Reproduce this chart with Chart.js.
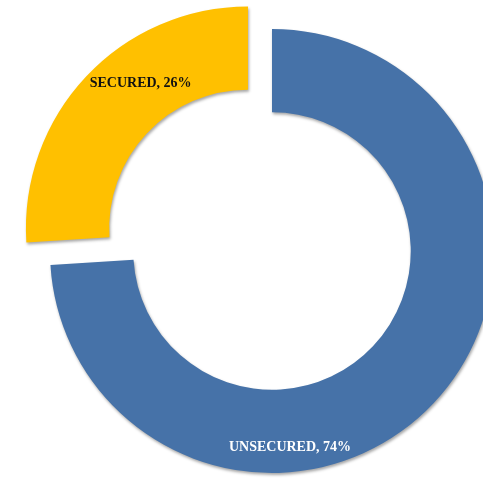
<!DOCTYPE html>
<html>
<head>
<meta charset="utf-8">
<title>Secured vs Unsecured</title>
<script src="https://cdn.jsdelivr.net/npm/chart.js@4.4.1/dist/chart.umd.min.js"></script>
<style>
    html, body {
        margin: 0;
        padding: 0;
        background: #ffffff;
        overflow: hidden;
        width: 483px;
        height: 478px;
    }
    #chartBox {
        position: absolute;
        left: 0;
        top: 0;
    }
</style>
</head>
<body>
<canvas id="chartBox" width="544" height="502"></canvas>
<script>
// Chart data
const categories = ["UNSECURED", "SECURED"];
const shares = [74, 26];
const sliceColors = ["#4672a8", "#ffc000"];
const labelColors = ["#ffffff", "#111111"];
const explode = [0, 33];

// Where along each slice the label sits (fraction of the arc, radius factor of ring)
const labelSpots = [
    { frac: 0.656, ring: 0.7 },
    { frac: 0.61, ring: 0.5 },
];

// Chart.js moves an arc by offset / 4 (plus a tiny fix for small arcs),
// so scale the wanted pixel shift up
function arcOffsets() {
    const total = shares.reduce((a, b) => a + b, 0);
    return explode.map((px, i) => {
        const circ = (shares[i] / total) * Math.PI * 2;
        const fix = 1 - Math.sin(Math.min(Math.PI, circ));
        return (px * 4) / (1 + fix);
    });
}

// Soft drop shadow under the slices
const shadowPlugin = {
    id: "sliceShadow",
    beforeDatasetsDraw(chart) {
        const ctx = chart.ctx;
        ctx.save();
        ctx.shadowColor = "rgba(0, 0, 0, 0.35)";
        ctx.shadowBlur = 3;
        ctx.shadowOffsetX = 1;
        ctx.shadowOffsetY = 2;
    },
    afterDatasetsDraw(chart) {
        chart.ctx.restore();
    },
};

// Draw "NAME, xx%" labels on the slices
const sliceLabels = {
    id: "sliceLabels",
    afterDraw(chart) {
        const ctx = chart.ctx;
        const meta = chart.getDatasetMeta(0);
        const total = shares.reduce((a, b) => a + b, 0);
        ctx.save();
        ctx.font = "bold 14px 'Liberation Serif', 'Times New Roman', serif";
        ctx.textAlign = "center";
        ctx.textBaseline = "middle";
        meta.data.forEach((arc, i) => {
            const p = arc.getProps(["x", "y", "startAngle", "endAngle", "innerRadius", "outerRadius"], true);
            const spot = labelSpots[i];
            const mid = (p.startAngle + p.endAngle) / 2;
            const off = explode[i];
            const cx = p.x + Math.cos(mid) * off;
            const cy = p.y + Math.sin(mid) * off;
            const ang = p.startAngle + (p.endAngle - p.startAngle) * spot.frac;
            const r = p.innerRadius + (p.outerRadius - p.innerRadius) * spot.ring;
            const pct = Math.round((shares[i] / total) * 100);
            ctx.fillStyle = labelColors[i];
            ctx.fillText(categories[i] + ", " + pct + "%", cx + Math.cos(ang) * r, cy + Math.sin(ang) * r);
        });
        ctx.restore();
    },
};

function renderChart() {
    const ctx = document.getElementById("chartBox").getContext("2d");
    new Chart(ctx, {
        type: "doughnut",
        data: {
            labels: categories,
            datasets: [
                {
                    data: shares,
                    backgroundColor: sliceColors,
                    borderWidth: 0,
                    offset: arcOffsets(),
                    hoverOffset: 0,
                },
            ],
        },
        options: {
            responsive: false,
            animation: false,
            radius: 222,
            cutout: "62.5%",
            layout: { padding: 0 },
            events: [],
            plugins: {
                legend: { display: false },
                tooltip: { enabled: false },
            },
        },
        plugins: [shadowPlugin, sliceLabels],
    });
}

renderChart();
</script>
</body>
</html>
